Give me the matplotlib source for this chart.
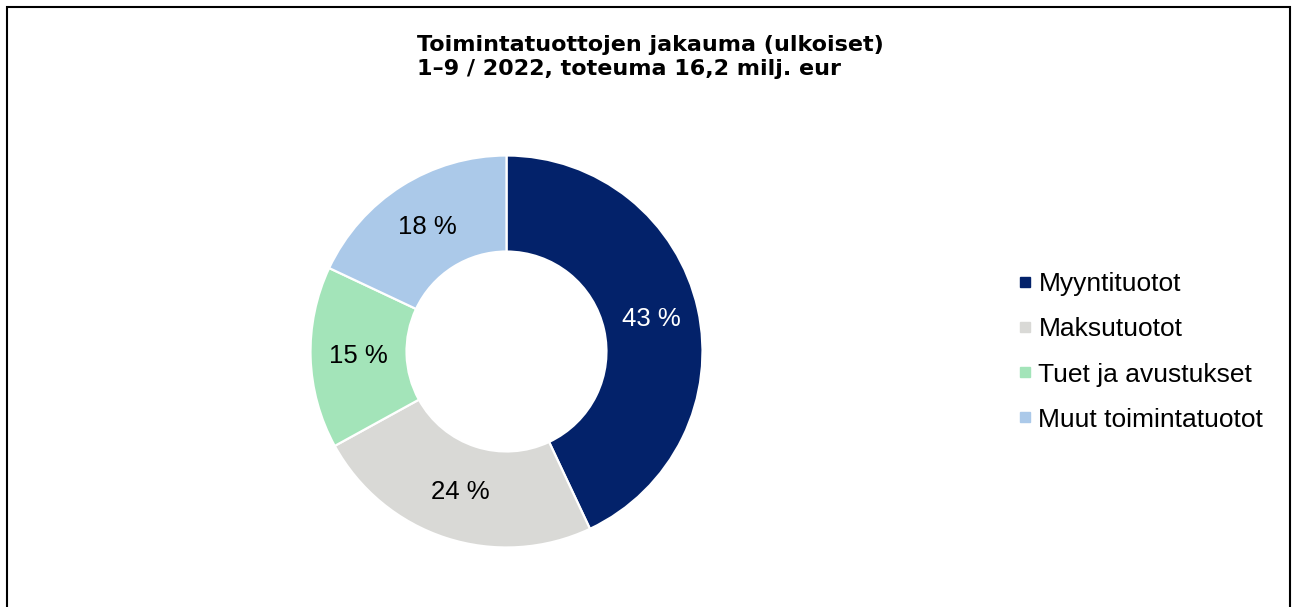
import matplotlib
matplotlib.use("Agg")
import matplotlib.pyplot as plt
from matplotlib.patches import Rectangle
from matplotlib.lines import Line2D
import numpy as np

plt.rcParams['font.family'] = ['Liberation Sans', 'DejaVu Sans']

# revenue split, percent
categories = ['Myyntituotot', 'Maksutuotot', 'Tuet ja avustukset', 'Muut toimintatuotot']
shares = [43, 24, 15, 18]
colors = ['#03226A', '#D9D9D6', '#A3E4B9', '#ABC9E9']
label_colors = ['white', 'black', 'black', 'black']

title = 'Toimintatuottojen jakauma (ulkoiset)\n1–9 / 2022, toteuma 16,2 milj. eur'

W, H = 1292, 607
fig = plt.figure(figsize=(W / 100, H / 100), dpi=100)

# donut axes: centre (506.5, 351.5) px, radius 196 px
cx, cy, r = 506.5, 351.5, 196
ax = fig.add_axes([(cx - r) / W, (H - cy - r) / H, 2 * r / W, 2 * r / H])
ring = 0.49
wedges, _ = ax.pie(shares, colors=colors, startangle=90, counterclock=False,
                   radius=1, wedgeprops=dict(width=ring, edgecolor='white', linewidth=1.6))
ax.set_xlim(-1, 1)
ax.set_ylim(-1, 1)
ax.axis('off')

# percent labels in the middle of the ring
mid_r = 1 - ring / 2
for w, val, lc in zip(wedges, shares, label_colors):
    ang = np.deg2rad((w.theta1 + w.theta2) / 2)
    ax.text(mid_r * np.cos(ang), mid_r * np.sin(ang), f'{val} %', ha='center', va='center',
            fontsize=18.5, color=lc)

fig.text(650 / W, 1 - 57 / H, title, ha='center', va='center', multialignment='left',
         fontsize=16, fontweight='bold', linespacing=1.2, family=['DejaVu Sans'])

handles = [Line2D([], [], marker='s', linestyle='none', markersize=6.5, color=c) for c in colors]
fig.legend(handles, categories, loc='center left', bbox_to_anchor=(1016 / W, 1 - 352 / H),
           frameon=False, fontsize=19, handlelength=0.7, handletextpad=0.15,
           labelspacing=0.8, borderpad=0, borderaxespad=0)

# outer frame
fig.add_artist(Rectangle((6.5 / W, -0.05), (1290 - 6.5) / W, 1.05 - 6.5 / H,
                         transform=fig.transFigure, fill=False, edgecolor='black',
                         linewidth=1.5, clip_on=False))

fig.savefig('out.png', dpi=100)
